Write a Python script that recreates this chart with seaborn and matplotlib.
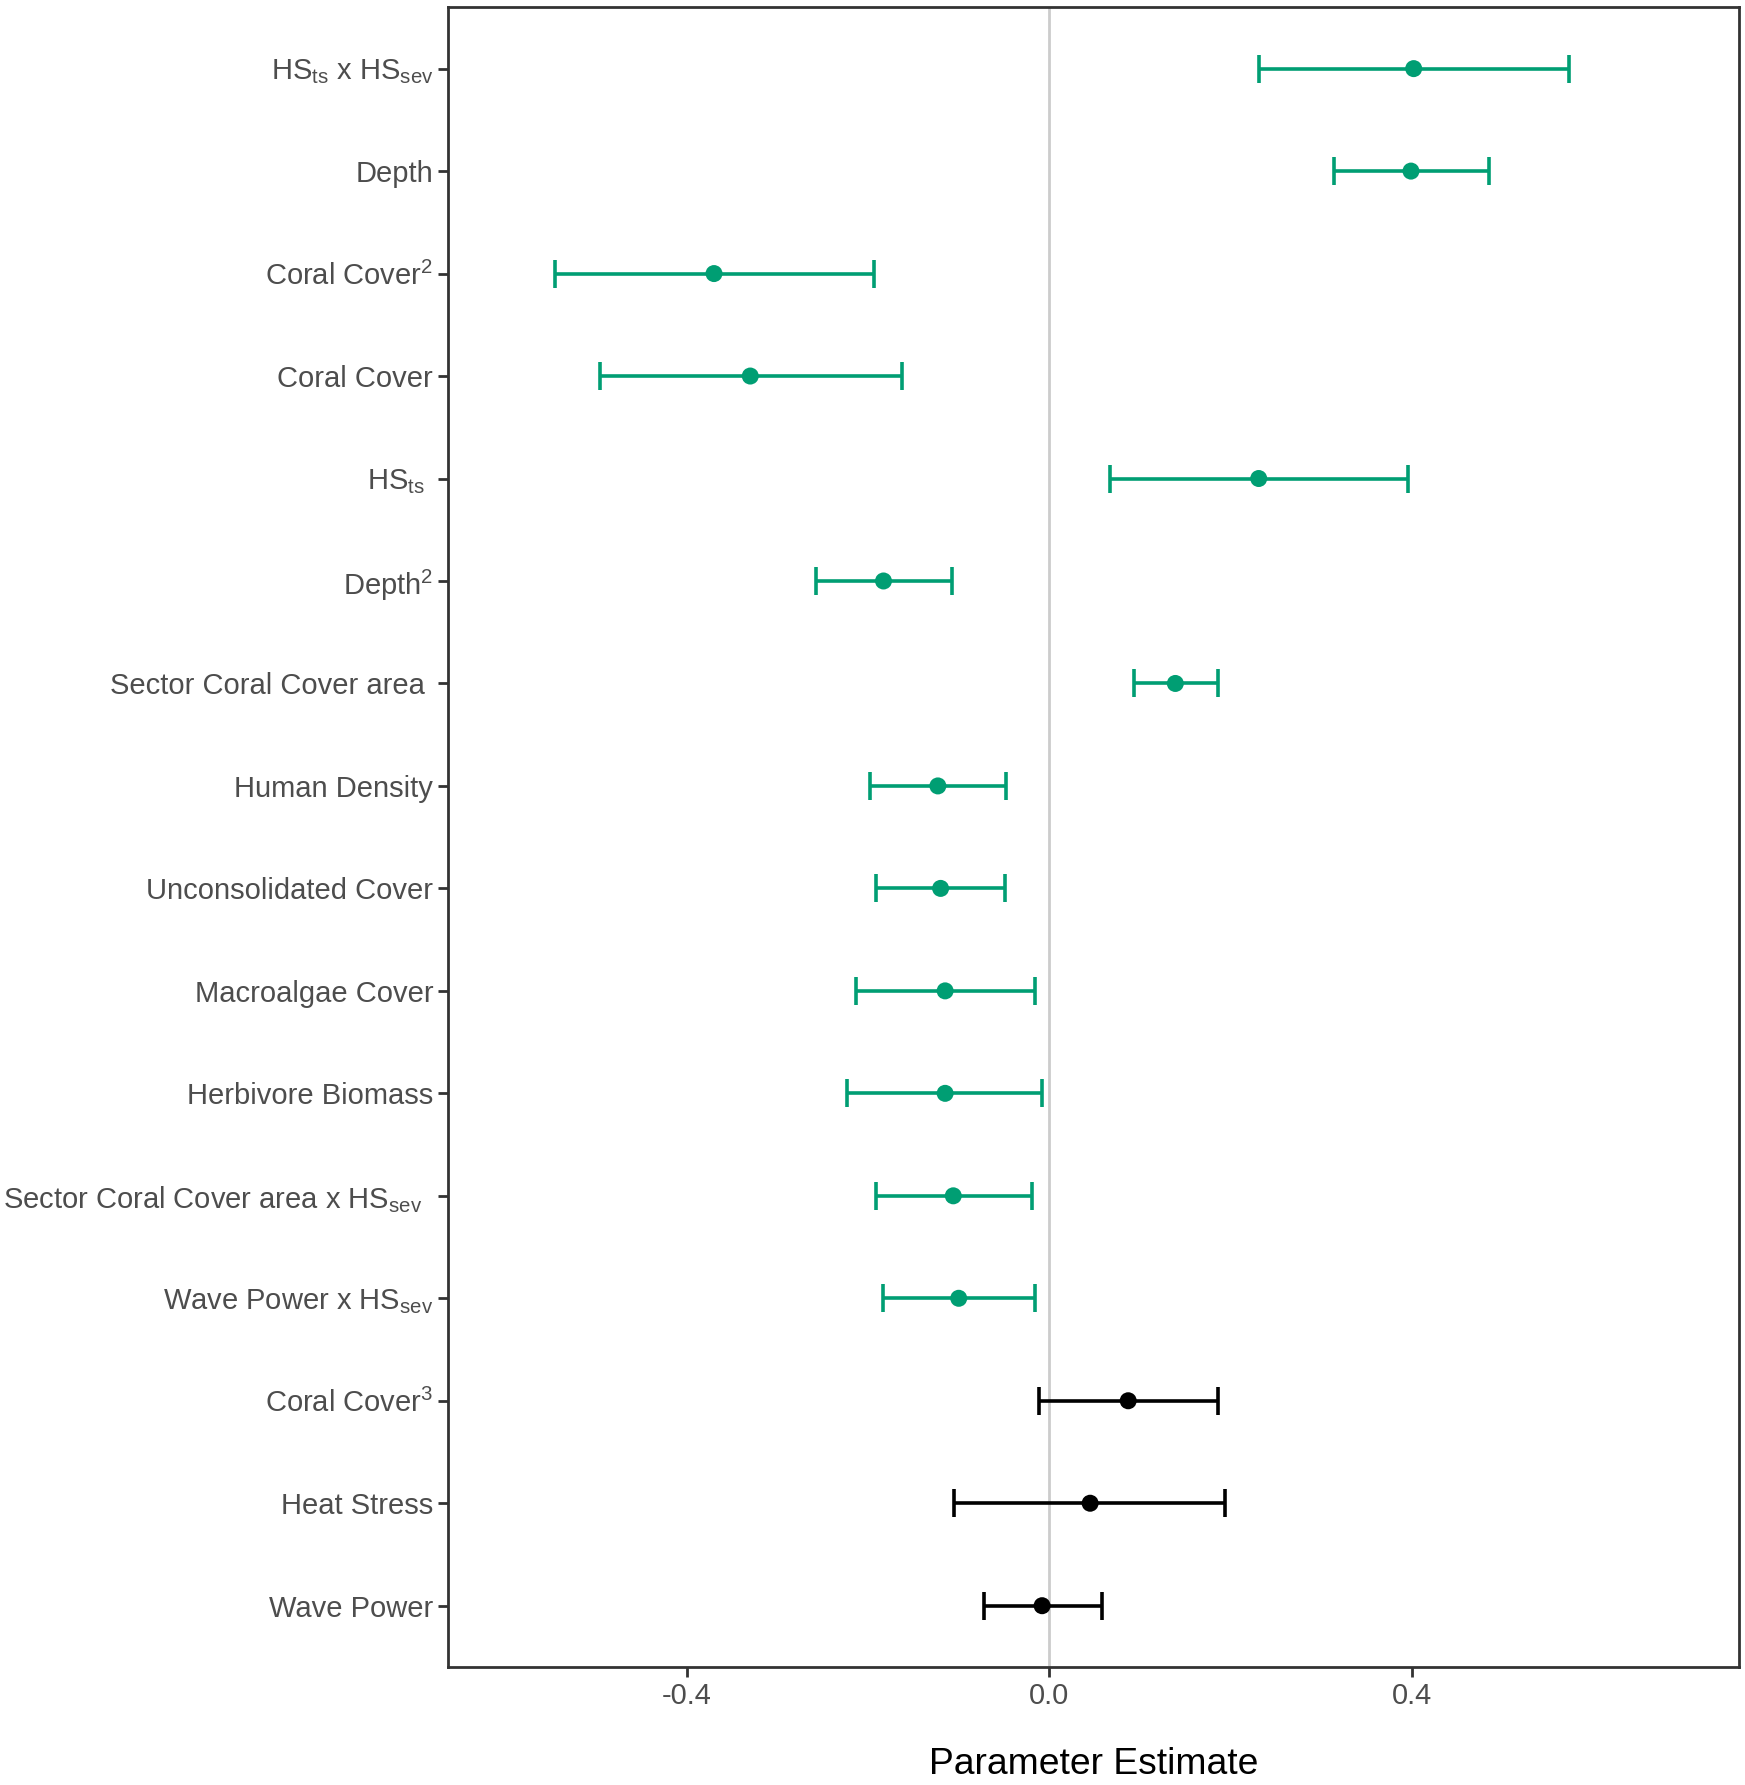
import matplotlib
matplotlib.use("Agg")
import matplotlib.pyplot as plt
import matplotlib.transforms as mtransforms
import seaborn as sns
import pandas as pd

terms = [
    r"HS$_{\mathregular{ts}}$ x HS$_{\mathregular{sev}}$",
    "Depth",
    r"Coral Cover$^{\mathregular{2}}$",
    "Coral Cover",
    r"HS$_{\mathregular{ts}}$",
    r"Depth$^{\mathregular{2}}$",
    "Sector Coral Cover area ",
    "Human Density",
    "Unconsolidated Cover",
    "Macroalgae Cover",
    "Herbivore Biomass",
    r"Sector Coral Cover area x HS$_{\mathregular{sev}}$",
    r"Wave Power x HS$_{\mathregular{sev}}$",
    r"Coral Cover$^{\mathregular{3}}$",
    "Heat Stress",
    "Wave Power",
]
estimate = [0.402, 0.399, -0.370, -0.330, 0.231, -0.183, 0.139, -0.123, -0.120,
            -0.115, -0.115, -0.106, -0.100, 0.087, 0.045, -0.008]
lower = [0.231, 0.314, -0.546, -0.496, 0.067, -0.257, 0.093, -0.198, -0.191,
         -0.213, -0.223, -0.191, -0.184, -0.011, -0.105, -0.072]
upper = [0.573, 0.485, -0.194, -0.163, 0.396, -0.107, 0.186, -0.048, -0.049,
         -0.016, -0.008, -0.019, -0.016, 0.186, 0.194, 0.058]
significant = ["yes"] * 13 + ["no"] * 3
xticks = [-0.4, 0.0, 0.4]

df = pd.DataFrame({"term": terms, "est": estimate, "lo": lower, "hi": upper,
                   "sig": significant})
df["pos"] = range(len(df))
colors = {"yes": "#009E73", "no": "#000000"}

sns.set_theme(style="white")
plt.rcParams["font.family"] = ["Liberation Sans", "DejaVu Sans"]
plt.rcParams["mathtext.fontset"] = "custom"
plt.rcParams["mathtext.rm"] = "Liberation Sans"
plt.rcParams["mathtext.it"] = "Liberation Sans"

fig = plt.figure(figsize=(17.45, 17.85), dpi=100)
ax = fig.add_axes([0.257, 0.066, 0.7396, 0.930])

ax.axvline(0, color="#CCCCCC", lw=2, zorder=0)

for sig, sub in df.groupby("sig"):
    ax.errorbar(sub["est"], sub["pos"],
                xerr=[sub["est"] - sub["lo"], sub["hi"] - sub["est"]],
                fmt="none", ecolor=colors[sig], elinewidth=2.6, capsize=10,
                capthick=2.6, zorder=2)

sns.scatterplot(data=df, x="est", y="pos", hue="sig", palette=colors, s=150,
                edgecolor="none", legend=False, ax=ax, zorder=3)

ax.set_yticks(df["pos"])
ax.set_yticklabels(df["term"])
ax.set_ylim(len(df) - 1 + 0.6, -0.6)
ax.set_xlim(-0.663, 0.761)
ax.set_xticks(xticks)
ax.set_xticklabels([f"{t:.1f}" for t in xticks])

ax.tick_params(axis="both", which="both", length=7, width=2, color="#333333",
               labelcolor="#4D4D4D", labelsize=21, pad=4, left=True, bottom=True)
for s in ax.spines.values():
    s.set_color("#333333")
    s.set_linewidth(2)
    s.set_visible(True)

# labels that carried a trailing space in the original
shifts = {4: -8, 11: -11}
for i, lab in enumerate(ax.get_yticklabels()):
    if i in shifts:
        off = mtransforms.ScaledTranslation(shifts[i] / 100, 0, fig.dpi_scale_trans)
        lab.set_transform(lab.get_transform() + off)

ax.set_xlabel("Parameter Estimate", fontsize=26.8, color="black", labelpad=26)
ax.set_ylabel("")
ax.grid(False)

fig.savefig("out.png", dpi=100)
